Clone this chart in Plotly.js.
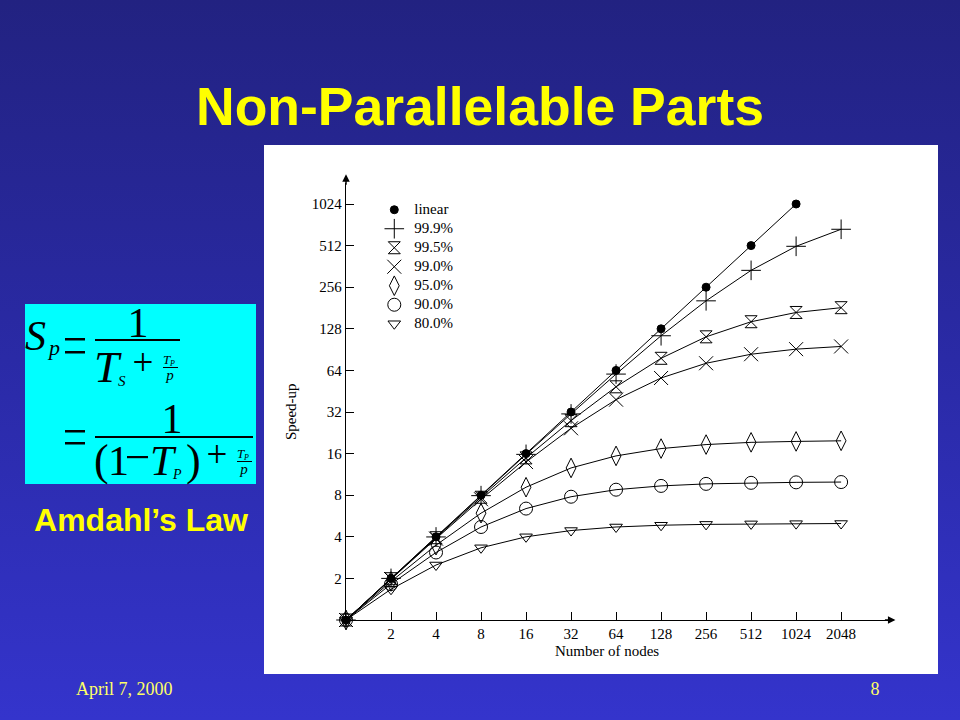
<!DOCTYPE html>
<html>
<head>
<meta charset="utf-8">
<script src="https://cdn.plot.ly/plotly-3.0.1.min.js"></script>
<style>
  html, body { margin: 0; padding: 0; }
  body { width: 960px; height: 720px; overflow: hidden; position: relative;
         background: linear-gradient(to bottom, #222281 0%, #2a2aa6 50%, #3434cc 100%); }
  #panel { position: absolute; left: 264px; top: 145px; width: 674px; height: 529px; background: #ffffff; }
  #chart { position: absolute; left: 0; top: 0; width: 674px; height: 529px; }
  #deco { position: absolute; left: 0; top: 0; }
</style>
</head>
<body>
<svg id="deco" width="960" height="720" xmlns="http://www.w3.org/2000/svg">
  <text x="480" y="125" text-anchor="middle" font-family="Liberation Sans, Arial, sans-serif" font-weight="bold" font-size="53.5" fill="#ffff00">Non-Parallelable Parts</text>
  <text x="141" y="531" text-anchor="middle" font-family="Liberation Sans, Arial, sans-serif" font-weight="bold" font-size="32" fill="#ffff00">Amdahl’s Law</text>
  <text x="76" y="695" font-family="Liberation Serif, Times New Roman, serif" font-size="18" fill="#ffff66">April 7, 2000</text>
  <text x="875" y="695" text-anchor="middle" font-family="Liberation Serif, Times New Roman, serif" font-size="18" fill="#ffff66">8</text>
  <!-- formula box -->
  <rect x="25" y="304" width="231" height="180" fill="#00ffff"/>
  <g font-family="Liberation Serif, Times New Roman, serif" fill="#000">
    <text x="25" y="350" font-size="42" font-style="italic">S</text>
    <text x="49" y="355" font-size="22" font-style="italic">p</text>
    <rect x="65" y="338" width="20" height="2.5"/>
    <rect x="65" y="351" width="20" height="2.5"/>
    <text x="138" y="337" font-size="42" text-anchor="middle">1</text>
    <rect x="95" y="339" width="85" height="2"/>
    <text x="94" y="382" font-size="45" font-style="italic">T</text>
    <text x="118" y="386" font-size="15" font-style="italic">S</text>
    <text x="143" y="375" font-size="37" text-anchor="middle">+</text>
    <text x="163" y="364" font-size="13" font-style="italic">T</text>
    <text x="170" y="366" font-size="8" font-style="italic">P</text>
    <rect x="163" y="367" width="15" height="1"/>
    <text x="170" y="380" font-size="15" font-style="italic" text-anchor="middle">p</text>

    <rect x="65" y="430" width="20" height="2.5"/>
    <rect x="65" y="442" width="20" height="2.5"/>
    <text x="172" y="433" font-size="42" text-anchor="middle">1</text>
    <rect x="95" y="436" width="158" height="2"/>
    <text x="94" y="475" font-size="44">(</text>
    <text x="108" y="475" font-size="42">1</text>
    <rect x="127" y="456" width="21" height="2.2"/>
    <text x="150" y="475" font-size="43" font-style="italic">T</text>
    <text x="173" y="479" font-size="14" font-style="italic">P</text>
    <text x="186" y="475" font-size="44">)</text>
    <text x="217" y="467" font-size="37" text-anchor="middle">+</text>
    <text x="237" y="458" font-size="13" font-style="italic">T</text>
    <text x="244" y="460" font-size="8" font-style="italic">P</text>
    <rect x="237" y="461" width="15" height="1"/>
    <text x="244" y="474" font-size="15" font-style="italic" text-anchor="middle">p</text>
  </g>
</svg>
<div id="panel"><div id="chart"></div></div>
<script>
// ---- data ----
var nodes = [1, 2, 4, 8, 16, 32, 64, 128, 256, 512, 1024, 2048];
var tickLabels = ['2', '4', '8', '16', '32', '64', '128', '256', '512', '1024', '2048'];
var yTickVals = [2, 4, 8, 16, 32, 64, 128, 256, 512, 1024];
var seriesNames = ['linear', '99.9%', '99.5%', '99.0%', '95.0%', '90.0%', '80.0%'];
var linear = [1, 2, 4, 8, 16, 32, 64, 128, 256, 512, 1024];
var p999 = [1, 2.00, 3.99, 7.94, 15.8, 31.0, 60.2, 114, 204, 339, 506, 672];
var p995 = [1, 1.99, 3.94, 7.73, 14.9, 27.7, 48.7, 78.3, 112, 144, 168, 182];
var p990 = [1, 1.98, 3.88, 7.48, 13.9, 24.4, 39.3, 56.4, 72.1, 83.8, 91.2, 95.4];
var p950 = [1, 1.90, 3.48, 5.93, 9.14, 12.6, 15.4, 17.4, 18.6, 19.3, 19.6, 19.8];
var p900 = [1, 1.82, 3.08, 4.71, 6.40, 7.80, 8.77, 9.34, 9.66, 9.83, 9.91, 9.96];
var p800 = [1, 1.67, 2.50, 3.33, 4.00, 4.44, 4.71, 4.85, 4.92, 4.96, 4.98, 4.99];

// ---- styles ----
var seriesValues = [linear, p999, p995, p990, p950, p900, p800];
var symbols = ['circle', 'cross-thin-open', 'hourglass-open', 'x-thin-open', 'diamond-tall-open', 'circle-open', 'triangle-down-open'];
var sizes = [8, 14, 12, 14, 14, 13, 11];
var serif = 'Liberation Serif, Times New Roman, serif';

var traces = [];
seriesValues.forEach(function (vals, i) {
  traces.push({
    x: nodes.slice(0, vals.length), y: vals, mode: 'lines+markers', name: seriesNames[i],
    showlegend: false, cliponaxis: false,
    line: { color: '#000', width: 1 },
    marker: { symbol: symbols[i], size: sizes[i], color: '#000', line: { color: '#000', width: 1 } }
  });
});
seriesValues.forEach(function (vals, i) {
  traces.push({
    x: [null], y: [null], mode: 'markers',
    name: '<span style="font-size:15px">' + seriesNames[i] + '</span>', showlegend: true,
    marker: { symbol: symbols[i], size: sizes[i], color: '#000', line: { color: '#000', width: 1 } }
  });
});

var xMax = Math.log10(nodes[nodes.length - 1]) + 0.327;
var yMax = Math.log10(1024) + 0.152;

var layout = {
  width: 674, height: 529,
  margin: { l: 82, r: 48, t: 38, b: 54 },
  paper_bgcolor: 'rgba(0,0,0,0)', plot_bgcolor: 'rgba(0,0,0,0)',
  font: { family: serif, size: 15, color: '#000' },
  xaxis: {
    type: 'log', range: [0, xMax], showgrid: false, zeroline: false,
    showline: true, linecolor: '#000', linewidth: 1.2,
    ticks: 'inside', ticklen: 8, tickwidth: 1, tickcolor: '#000',
    tickvals: nodes.slice(1), ticktext: tickLabels,
    tickfont: { family: serif, size: 15, color: '#000' }
  },
  yaxis: {
    type: 'log', range: [0, yMax], showgrid: false, zeroline: false,
    showline: true, linecolor: '#000', linewidth: 1.2,
    ticks: 'inside', ticklen: 8, tickwidth: 1, tickcolor: '#000',
    tickvals: yTickVals, ticktext: yTickVals.map(String),
    tickfont: { family: serif, size: 15, color: '#000' }
  },
  showlegend: true,
  legend: {
    x: 0.052, y: 0.972, xanchor: 'left', yanchor: 'top',
    bgcolor: 'rgba(0,0,0,0)', font: { family: serif, size: 12, color: '#000' },
    itemwidth: 30
  },
  annotations: [
    { xref: 'paper', yref: 'paper', x: 1.01, y: 0, ax: -12, ay: 0, text: '', showarrow: true,
      arrowhead: 2, arrowsize: 1, arrowwidth: 1.5, arrowcolor: '#000' },
    { xref: 'paper', yref: 'paper', x: 0, y: 1.02, ax: 0, ay: 12, text: '', showarrow: true,
      arrowhead: 2, arrowsize: 1, arrowwidth: 1.5, arrowcolor: '#000' },
    { xref: 'paper', yref: 'paper', x: 0.48, y: -0.071, text: 'Number of nodes', showarrow: false,
      xanchor: 'center', yanchor: 'middle', font: { family: serif, size: 15, color: '#000' } },
    { xref: 'paper', yref: 'paper', x: -0.101, y: 0.476, text: 'Speed-up', showarrow: false, textangle: -90,
      xanchor: 'center', yanchor: 'middle', font: { family: serif, size: 15, color: '#000' } }
  ]
};

Plotly.newPlot('chart', traces, layout, { staticPlot: true, displayModeBar: false });
</script>
</body>
</html>
